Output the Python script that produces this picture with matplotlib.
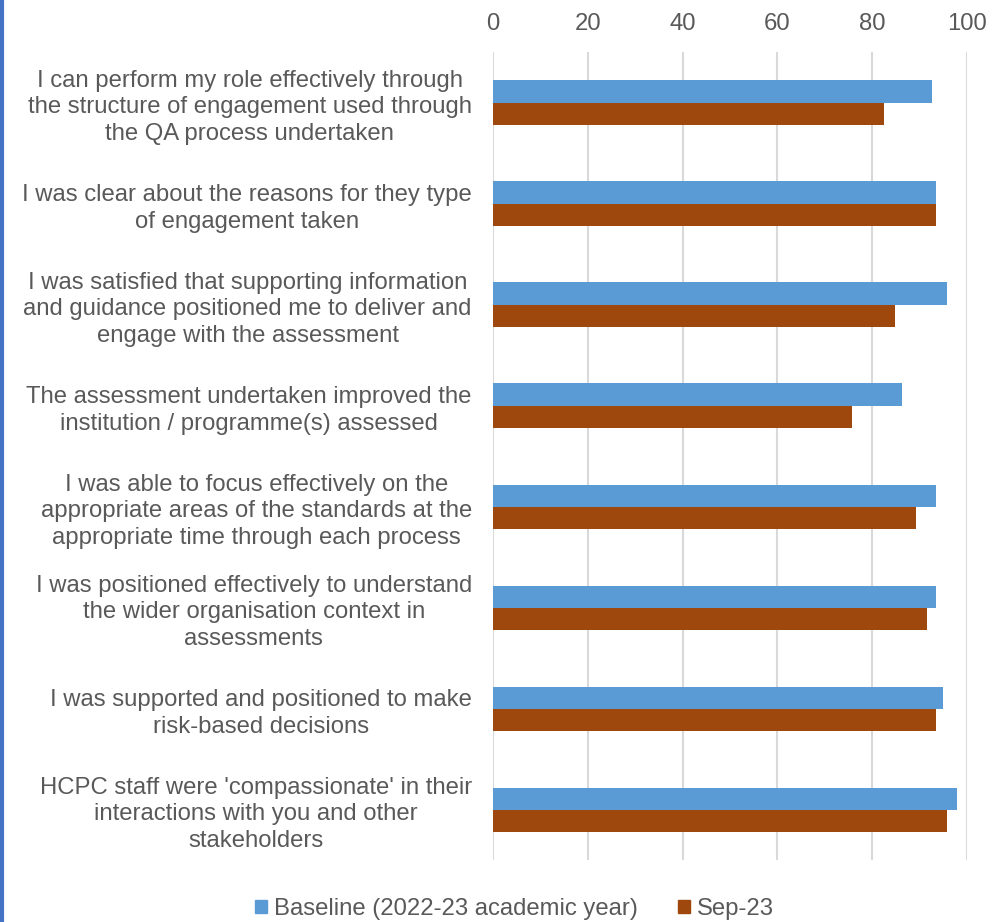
import matplotlib
matplotlib.use("Agg")
import matplotlib.pyplot as plt
from matplotlib.patches import Patch
import numpy as np

categories = [
    "I can perform my role effectively through\nthe structure of engagement used through\nthe QA process undertaken",
    "I was clear about the reasons for they type\nof engagement taken",
    "I was satisfied that supporting information\nand guidance positioned me to deliver and\nengage with the assessment",
    "The assessment undertaken improved the\ninstitution / programme(s) assessed",
    "I was able to focus effectively on the\nappropriate areas of the standards at the\nappropriate time through each process",
    "I was positioned effectively to understand\nthe wider organisation context in\nassessments",
    "I was supported and positioned to make\nrisk-based decisions",
    "HCPC staff were 'compassionate' in their\ninteractions with you and other\nstakeholders",
]
baseline = [92.5, 93.3, 95.7, 86.2, 93.3, 93.3, 94.8, 97.8]
sep23 = [82.4, 93.5, 84.7, 75.7, 89.1, 91.4, 93.5, 95.8]
series_names = ["Baseline (2022-23 academic year)", "Sep-23"]
xticks = [0, 20, 40, 60, 80, 100]

c_base = "#5B9BD5"
c_sep = "#9E480E"
txt = "#595959"
fs = 17.2

plt.rcParams['font.family'] = ['Liberation Sans', 'DejaVu Sans']

fig = plt.figure(figsize=(10.04, 9.22), dpi=100)
ax = fig.add_axes([0.4907, 0.0672, 0.9635 - 0.4907, 0.9436 - 0.0672])

y = np.arange(len(categories))
h = 0.218
ax.barh(y - h / 2, baseline, height=h, color=c_base, zorder=3)
ax.barh(y + h / 2, sep23, height=h, color=c_sep, zorder=3)

ax.set_ylim(len(categories) - 0.5, -0.5)
ax.set_xlim(0, 100)
ax.set_xticks(xticks)
ax.xaxis.tick_top()
ax.tick_params(axis='x', length=0, pad=12, labelsize=fs, labelcolor=txt)
ax.set_yticks(y)
ax.set_yticklabels(categories, multialignment='center', fontsize=fs, color=txt,
                   linespacing=1.27)
ax.tick_params(axis='y', length=0, pad=15)
ax.grid(axis='x', color="#D9D9D9", linewidth=1.5, zorder=0)
for s in ax.spines.values():
    s.set_visible(False)

handles = [Patch(color=c_base), Patch(color=c_sep)]
fig.legend(handles, series_names, loc='center', bbox_to_anchor=(0.5125, 0.014),
           ncol=2, frameon=False, fontsize=fs, labelcolor=txt,
           handlelength=0.5, handleheight=0.5, handletextpad=0.3, columnspacing=1.65)

fig.add_artist(plt.Line2D([0.0015, 0.0015], [0, 1], color="#4472C4", linewidth=3,
                          transform=fig.transFigure))

fig.savefig("out.png", dpi=100)
